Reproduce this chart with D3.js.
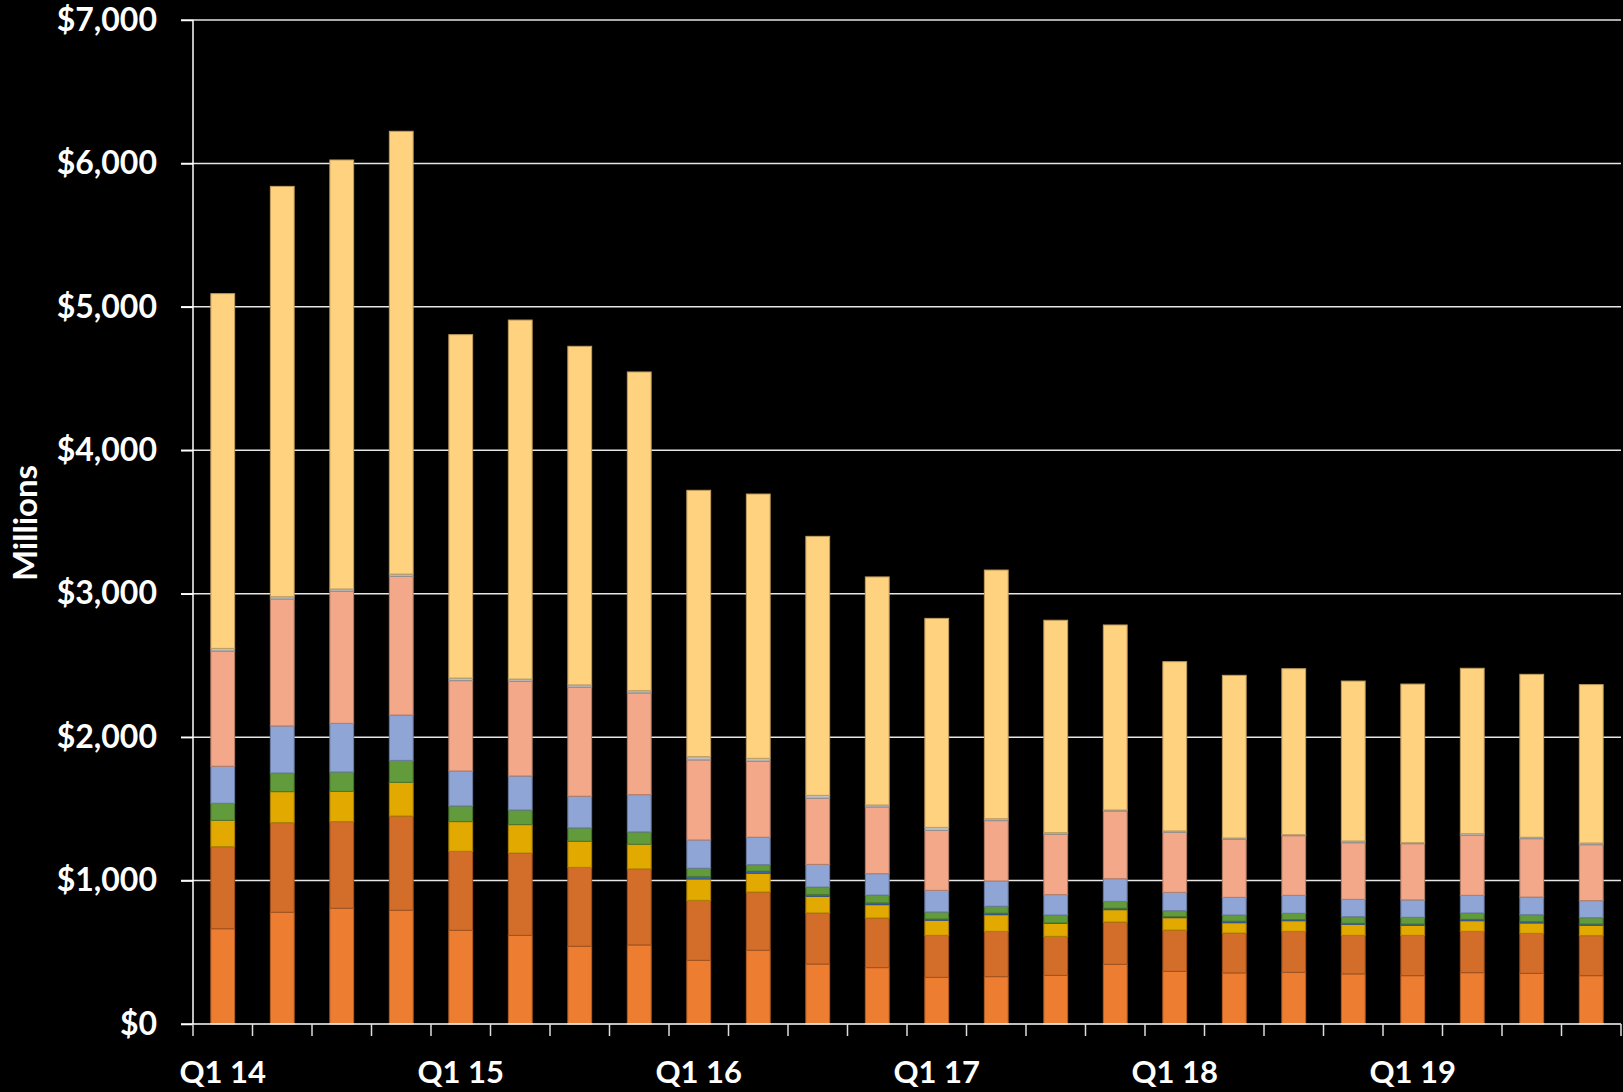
<!DOCTYPE html>
<html>
<head>
<meta charset="utf-8">
<script src="https://cdn.jsdelivr.net/npm/d3@7"></script>
<style>
  body { margin: 0; background: #000; }
  svg { display: block; }
  text { font-family: Lato, "Open Sans", sans-serif; font-weight: bold; fill: #fff; }
</style>
</head>
<body>
<div id="chart"></div>
<script>
// quarters
var quarters = ["Q1 14","Q2 14","Q3 14","Q4 14","Q1 15","Q2 15","Q3 15","Q4 15",
                "Q1 16","Q2 16","Q3 16","Q4 16","Q1 17","Q2 17","Q3 17","Q4 17",
                "Q1 18","Q2 18","Q3 18","Q4 18","Q1 19","Q2 19","Q3 19","Q4 19"];

// series values, bottom to top (millions)
var s1 = [664,779,807,793,653,618,542,551,444,514,418,393,325,330,339,416,367,356,360,349,337,358,353,337];
var s2 = [572,625,604,657,551,574,550,530,418,406,356,346,293,316,272,295,288,278,286,269,281,288,279,279];
var s3 = [184,216,211,235,207,198,182,172,149,131,116,93,105,116,91,86,86,72,74,77,70,74,72,72];
var s4 = [0,0,0,0,0,0,0,0,16,14,12,12,9,10,2,10,7,10,7,7,9,10,9,9];
var s5 = [119,130,135,153,109,102,93,86,59,46,53,55,49,49,56,48,42,44,45,46,47,44,49,44];
var s6 = [258,328,339,316,244,237,221,260,197,191,158,149,151,176,142,158,128,123,125,121,121,123,123,119];
var s7 = [803,885,921,967,630,660,760,709,558,530,461,465,418,421,421,472,418,405,416,395,392,418,407,390];
var s8 = [19,16,16,16,18,16,16,16,23,20,20,14,21,13,11,7,10,9,7,12,7,12,10,12];
var s9 = [2473,2861,2991,3087,2394,2503,2361,2222,1857,1843,1806,1590,1457,1734,1481,1290,1180,1134,1157,1115,1106,1153,1136,1104];

var seriesList = [s1, s2, s3, s4, s5, s6, s7, s8, s9];
var colors = ["#ED7D31","#D36D2A","#E2AA00","#3E6EB4","#629B3C","#8FA5D5","#F2A889","#BFBFBF","#FFD280"];
var yTicks = [0,1000,2000,3000,4000,5000,6000,7000];

var W = 1623, H = 1092;
var plotL = 193, plotR = 1621, plotT = 20, plotB = 1024;

var svg = d3.select("#chart").append("svg")
    .attr("width", W)
    .attr("height", H);

var x = d3.scaleBand()
    .domain(quarters)
    .range([plotL, plotR])
    .paddingInner(0.6)
    .paddingOuter(0.3);

var y = d3.scaleLinear()
    .domain([0, 7000])
    .range([plotB, plotT]);

// gridlines
svg.append("g")
    .selectAll("line")
    .data(yTicks.slice(1))
    .enter()
    .append("line")
    .attr("x1", plotL - 12)
    .attr("x2", plotR)
    .attr("y1", function(d) { return y(d); })
    .attr("y2", function(d) { return y(d); })
    .attr("stroke", "#e6e6e6")
    .attr("stroke-width", 1.5);

// build the stack
var table = quarters.map(function(q, i) {
    var row = {q: q};
    seriesList.forEach(function(s, k) { row["k" + k] = s[i]; });
    return row;
});
var keys = seriesList.map(function(s, k) { return "k" + k; });
var stacked = d3.stack().keys(keys)(table);

svg.append("g")
    .selectAll("g")
    .data(stacked)
    .enter()
    .append("g")
    .attr("fill", function(d, i) { return colors[i]; })
    .attr("stroke", function(d, i) { return d3.color(colors[i]).darker(0.8); })
    .attr("stroke-width", 1)
    .selectAll("rect")
    .data(function(d) { return d; })
    .enter()
    .append("rect")
    .attr("x", function(d) { return x(d.data.q); })
    .attr("width", x.bandwidth())
    .attr("y", function(d) { return y(d[1]); })
    .attr("height", function(d) { return Math.max(0, y(d[0]) - y(d[1])); })
    .attr("stroke-opacity", function(d) { return y(d[0]) - y(d[1]) > 0 ? 1 : 0; });

// y axis
var yAxis = d3.axisLeft(y)
    .tickValues(yTicks)
    .tickSize(12)
    .tickPadding(24)
    .tickFormat(function(d) { return "$" + d3.format(",")(d); });

var gy = svg.append("g")
    .attr("transform", "translate(" + plotL + ",0)")
    .call(yAxis);
gy.select(".domain").attr("stroke", "#fff").attr("stroke-width", 1.5).attr("d", "M0," + plotT + "V" + plotB);
gy.selectAll(".tick line").attr("stroke", "#fff").attr("stroke-width", 1.5);
gy.selectAll(".tick text")
    .attr("fill", "#fff")
    .style("font-size", "32px")
    .style("font-family", "Lato, sans-serif")
    .style("font-weight", "bold");

// x axis
var gx = svg.append("g");
gx.append("line")
    .attr("x1", plotL - 12)
    .attr("x2", plotR)
    .attr("y1", plotB)
    .attr("y2", plotB)
    .attr("stroke", "#fff")
    .attr("stroke-width", 1.5);

var bounds = quarters.map(function(q) { return x(q) - x.step() * 0.3; });
bounds.push(plotR);
gx.selectAll(".xt")
    .data(bounds)
    .enter()
    .append("line")
    .attr("class", "xt")
    .attr("x1", function(d) { return d; })
    .attr("x2", function(d) { return d; })
    .attr("y1", plotB)
    .attr("y2", plotB + 12)
    .attr("stroke", "#ddd")
    .attr("stroke-width", 1.5);

gx.selectAll(".xl")
    .data(quarters.filter(function(q) { return q.indexOf("Q1") === 0; }))
    .enter()
    .append("text")
    .attr("class", "xl")
    .attr("x", function(d) { return x(d) + x.bandwidth() / 2; })
    .attr("y", 1083)
    .attr("text-anchor", "middle")
    .style("font-size", "31px")
    .text(function(d) { return d; });

// axis title
svg.append("text")
    .attr("transform", "translate(37,523) rotate(-90)")
    .attr("text-anchor", "middle")
    .style("font-size", "33px")
    .text("Millions");
</script>
</body>
</html>
